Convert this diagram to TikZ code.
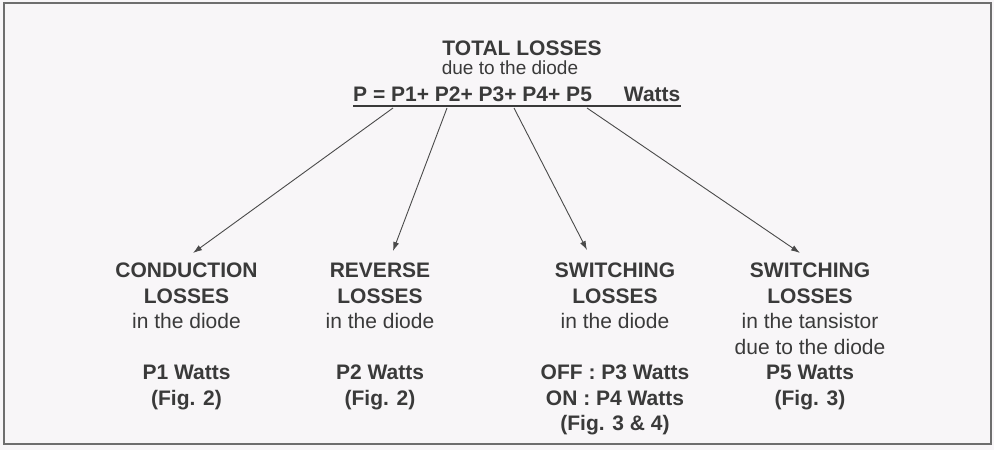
\documentclass[tikz,border=0pt]{standalone}
\usepackage{fontspec}
\setmainfont{Liberation Sans}
\usetikzlibrary{arrows.meta}
\definecolor{bg}{HTML}{F8F6F8}
\definecolor{ink}{HTML}{3A3A3A}
\definecolor{framecol}{HTML}{6E6E6E}
\definecolor{arrcol}{HTML}{4A4A4A}
\begin{document}
\begin{tikzpicture}[x=1pt,y=-1pt,
  txt/.style={inner sep=0pt, text=ink, align=center},
  bigb/.style={font=\fontsize{21}{25.5}\selectfont\bfseries},
  col/.style={txt, anchor=base, font=\fontsize{21}{25.5}\selectfont},
  arr/.style={draw=arrcol, line width=0.9pt, -{Latex[length=9pt,width=6pt]}}]
\fill[bg] (0,0) rectangle (994,450);
\useasboundingbox (0,0) rectangle (994,450);
\draw[framecol, line width=1.8pt] (4,3) rectangle (991,444);

\node[txt, bigb, anchor=base] (title) at (522,55) {TOTAL LOSSES};
\node[txt, anchor=base, font=\fontsize{19}{23}\selectfont] (sub) at (510,74) {due to the diode};
\node[txt, bigb, anchor=base west] (eq) at (353,101) {P = P1+ P2+ P3+ P4+ P5\hspace{32pt}Watts};
\draw[ink, line width=1.5pt] ([yshift=-5pt]eq.base west) -- ([yshift=-5pt]eq.base east);

\coordinate (s1) at (393,108);
\coordinate (s2) at (447,108);
\coordinate (s3) at (514,108);
\coordinate (s4) at (587,108);

% anchor = baseline of the last line
\node[col] (c1) at (186.5,405) {\bfseries CONDUCTION\\ \bfseries LOSSES\\ in the diode\\[25.5pt] \bfseries P1 Watts\\ \bfseries (Fig. 2)};
\node[col] (c2) at (380,405) {\bfseries REVERSE\\ \bfseries LOSSES\\ in the diode\\[25.5pt] \bfseries P2 Watts\\ \bfseries (Fig. 2)};
\node[col] (c3) at (615,430.5) {\bfseries SWITCHING\\ \bfseries LOSSES\\ in the diode\\[25.5pt] \bfseries OFF : P3 Watts\\ \bfseries ON : P4 Watts\\ \bfseries (Fig. 3 \& 4)};
\node[col] (c4) at (810,405) {\bfseries SWITCHING\\ \bfseries LOSSES\\ in the tansistor\\ due to the diode\\ \bfseries P5 Watts\\ \bfseries (Fig. 3)};

\draw[arr] (s1) -- ([xshift=6.5pt,yshift=152pt]c1.base);
\draw[arr] (s2) -- ([xshift=13pt,yshift=154pt]c2.base);
\draw[arr] (s3) -- ([xshift=-28pt,yshift=180.5pt]c3.base);
\draw[arr] (s4) -- ([xshift=-10pt,yshift=152pt]c4.base);
\end{tikzpicture}
\end{document}
